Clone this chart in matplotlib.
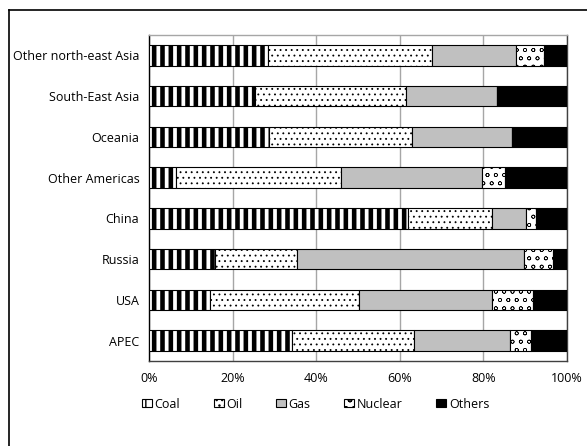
import numpy as np
import matplotlib
matplotlib.use('Agg')
import matplotlib.pyplot as plt
from matplotlib.lines import Line2D

plt.rcParams['font.family'] = ['Open Sans', 'DejaVu Sans']

# regions, bottom to top as drawn
regions = ['APEC', 'USA', 'Russia', 'China', 'Other Americas',
           'Oceania', 'South-East Asia', 'Other north-east Asia']

# shares in percent, same order as regions
coal    = [34.3, 14.6, 15.8, 62.0,  6.5, 28.8, 25.4, 28.5]
oil     = [29.1, 35.7, 19.5, 20.1, 39.4, 34.2, 36.0, 39.1]
gas     = [23.0, 31.7, 54.4,  8.0, 33.8, 23.8, 21.8, 20.1]
nuclear = [ 5.1,  9.8,  7.0,  2.5,  5.5,  0.0,  0.0,  6.8]
others  = [ 8.5,  8.2,  3.3,  7.4, 14.8, 13.2, 16.8,  5.5]

series = ['Coal', 'Oil', 'Gas', 'Nuclear', 'Others']
xticks = [0, 20, 40, 60, 80, 100]

fig = plt.figure(figsize=(5.87, 4.46), dpi=100)
ax = fig.add_axes([149 / 587, 1 - 361 / 446, 418 / 587, 326 / 446])

# outer frame (left and top edge visible)
fig.add_artist(Line2D([9 / 587, 9 / 587], [0, 1 - 10 / 446], color='black', lw=1.2))
fig.add_artist(Line2D([9 / 587, 1], [1 - 10 / 446, 1 - 10 / 446], color='black', lw=1.2))

y = np.arange(len(regions))
styles = [
    dict(color='white', hatch='||', hlw=3.3),
    dict(color='white', hatch='...', hlw=0.6),
    dict(color='#c0c0c0', hatch=None, hlw=1.0),
    dict(color='white', hatch='oo', hlw=0.45),
    dict(color='black', hatch=None, hlw=1.0),
]

left = np.zeros(len(regions))
for name, vals, st in zip(series, [coal, oil, gas, nuclear, others], styles):
    with plt.rc_context({'hatch.linewidth': st['hlw']}):
        bars = ax.barh(y, vals, left=left, height=0.5, color=st['color'],
                       edgecolor='black', linewidth=0.8, hatch=st['hatch'],
                       label=name, zorder=3)
        for b in bars:
            if hasattr(b, 'set_hatch_linewidth'):
                b.set_hatch_linewidth(st['hlw'])
    left += np.array(vals)

ax.set_xlim(0, 100)
ax.set_ylim(-0.5, len(regions) - 0.5)
ax.set_yticks(y)
ax.set_yticklabels(regions, fontsize=9)
ax.set_xticks(xticks)
ax.set_xticklabels([f'{t}%' for t in xticks], fontsize=9)
ax.tick_params(axis='x', length=0, pad=8)
ax.tick_params(axis='y', length=0, pad=7)
ax.xaxis.grid(True, color='#a6a6a6', lw=1, zorder=0)
ax.set_axisbelow(True)

ax.spines['left'].set_color('black')
ax.spines['bottom'].set_color('#404040')
ax.spines['top'].set_color('#a6a6a6')
ax.spines['right'].set_color('#404040')
for s in ax.spines.values():
    s.set_linewidth(1)

leg = fig.legend(loc='center', bbox_to_anchor=(0.5375, 1 - 404 / 446), ncol=5,
                 frameon=False, fontsize=9, handlelength=0.8, handleheight=0.65,
                 handletextpad=0.2, columnspacing=2.7)

fig.savefig('out.png', dpi=100)
